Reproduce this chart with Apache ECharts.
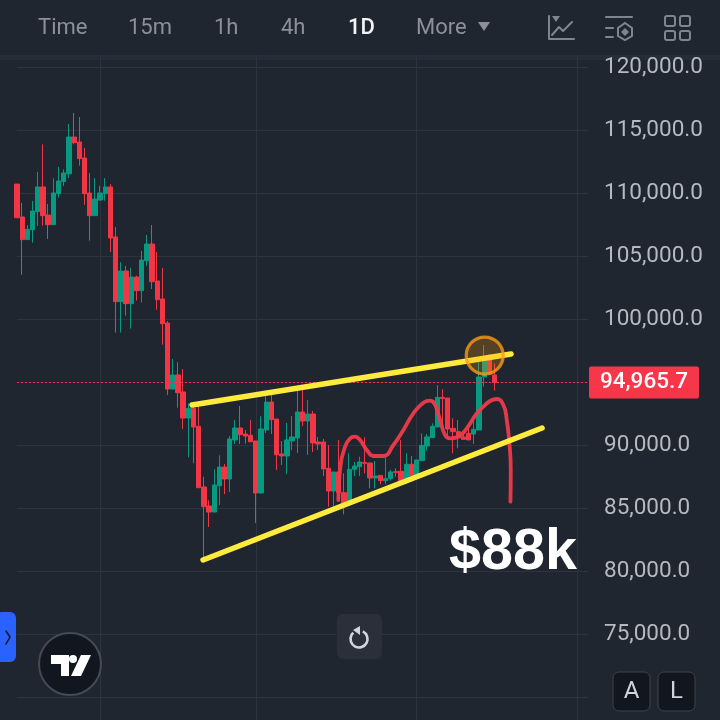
<!DOCTYPE html>
<html><head><meta charset="utf-8">
<style>html,body{margin:0;padding:0;background:#1f2630}#c{width:720px;height:720px}</style>
<script src="https://cdn.jsdelivr.net/npm/echarts@6/dist/echarts.min.js"></script>
</head><body><div id="c"></div>
<script>
const categories = ["10-16","10-17","10-18","10-19","10-20","10-21","10-22","10-23","10-24","10-25","10-26","10-27","10-28","10-29","10-30","10-31",
"11-01","11-02","11-03","11-04","11-05","11-06","11-07","11-08","11-09","11-10","11-11","11-12","11-13","11-14","11-15","11-16","11-17","11-18","11-19","11-20","11-21","11-22","11-23","11-24","11-25","11-26","11-27","11-28","11-29","11-30",
"12-01","12-02","12-03","12-04","12-05","12-06","12-07","12-08","12-09","12-10","12-11","12-12","12-13","12-14","12-15","12-16","12-17","12-18","12-19","12-20","12-21","12-22","12-23","12-24","12-25","12-26","12-27","12-28","12-29","12-30","12-31",
"01-01","01-02","01-03","01-04","01-05","01-06","01-07","01-08","01-09","01-10","01-11","01-12","01-13","01-14","01-15","01-16","01-17","01-18","01-19","01-20","01-21","01-22","01-23","01-24","01-25","01-26","01-27","01-28","01-29","01-30","01-31",
"02-01","02-02","02-03"];
const monthStarts = ["11-01","12-01","01-01","02-01"];
const opens = [110710,108100,106300,107090,108520,110480,108250,107490,109950,110900,111530,114440,114050,112780,110000,108200,109440,109950,110480,106510,
101380,103810,101220,103330,102250,104630,105950,103020,101590,99680,94440,95560,94210,92140,92910,91480,86670,85160,84680,86770,
88250,87300,90400,91350,90870,90770,90320,86190,91190,93410,92060,89290,89130,90320,90560,92620,91900,92460,90240,90240,
88150,86350,87860,86220,85370,88070,88280,88620,88570,87380,87590,87170,87330,87880,87910,87170,88470,87540,88760,89920,
90580,91430,93780,93730,91320,91060,90640,90930,90870,91190,95400,96880,95560];
const closes = [108040,106300,107120,108570,110480,108200,107490,110000,110950,111590,114440,114000,112730,109950,108200,109520,110000,110480,106430,101380,
103810,101220,103330,102250,104680,105950,102960,101530,99630,94440,95560,94150,92140,92910,91430,86610,85110,84680,86830,88250,
87300,90480,91350,90820,90710,90260,86190,91270,93410,92010,89230,89130,90400,90640,92620,91900,92460,90160,90080,88100,
86350,87860,86220,85370,88070,88330,88650,88550,87380,87540,87170,87330,87860,87830,87170,88470,87540,88810,89970,90640,
91480,93780,93700,91270,91060,90580,90450,90400,91240,95400,96880,95640,94950];
const lows = [108040,103520,106300,106060,107380,107410,106350,107490,109630,110560,111190,113860,112170,109070,106220,108200,109390,109390,105320,98920,
98920,100270,99230,101460,101300,104230,102380,100740,97960,93970,94440,92960,91270,89020,88550,86610,80740,83490,84680,85240,
86110,86270,90080,90080,90110,90260,83810,86190,90950,90870,88020,88410,87700,89600,89370,91510,89210,89440,89600,87540,
85110,85160,85500,84500,85160,87540,87540,87750,86560,86560,86900,86900,87170,87490,86830,86900,87090,87540,88760,89550,
90580,91430,91460,90530,89340,89740,90400,90400,90080,91190,94630,95560,94310];
const highs = [110710,109210,107460,109370,111670,113860,109130,111160,112060,111880,115480,116350,116030,113570,111590,111190,110560,111190,110710,107300,
104500,104210,104050,103440,105400,106670,107460,105320,104050,99840,96830,96560,96030,93310,93250,93230,87490,85610,88070,89180,
88490,90710,91980,93100,91190,91980,90320,92280,94230,94020,92060,90320,91750,92300,94600,94370,93570,92700,90640,90480,
90000,87860,90400,87750,89340,88650,89070,90610,88570,88730,87620,89210,88020,88150,90400,89340,89130,88810,90930,90870,
91720,94760,94420,93730,92120,91980,90930,91670,92380,96880,97940,97220,96480];
const lastPrice = 94965.7;
const resistanceLine = [[33.72,93175],[95.18,97222]];
const supportLine = [[35.84,80873],[101.16,91349]];
const curveIndex = [61.9,62.23,63.2,64.17,65.12,66.09,67.38,68.66,70.58,72.52,74.44,76.36,78.29,79.58,80.54,81.5,82.47,83.43,85.03,86.64,88.57,89.85,91.13,92.42,93.7,94.35,94.86,95.12,95.06];
const curvePrice = [85635,88016,89868,90529,90661,90397,89603,89127,89127,90000,91190,92513,93360,93519,93175,91984,90794,90529,90661,91323,92513,93042,93492,93651,93175,91984,90132,88016,85503];
const circlePoint = [90.1,97100];
const headerTabs = [["Time",38,false],["15m",128,false],["1h",214,false],["4h",281,false],["1D",348,true],["More",416,false]];

const RED="#f23645", GREEN="#089981", BG="#1f2630", GRID="#2d343f", MUTED="#8b9099", ICON="#7f8590";
const FONT="Roboto, sans-serif";

const chart = echarts.init(document.getElementById('c'),null,{renderer:'canvas'});
const t=(x,y,text,fontSize,fill,extra)=>({type:'text',x,y,z:100,silent:true,style:Object.assign({text,fontSize,fill,fontFamily:FONT,verticalAlign:'middle'},extra||{})});
const ln=(shape,stroke,w)=>({type:'line',z:100,silent:true,shape,style:{stroke,lineWidth:w||2,lineCap:'round'}});
const rr=(x,y,width,height,r,fill,stroke,w,z)=>({type:'rect',z:z===undefined?100:z,silent:true,shape:{x,y,width,height,r},style:{fill,stroke:stroke||null,lineWidth:w||0}});
const poly=(points,fill,z)=>({type:'polygon',z:z||100,silent:true,shape:{points},style:{fill}});
const pl=(points,stroke,w)=>({type:'polyline',z:100,silent:true,shape:{points},style:{stroke,lineWidth:w||2,fill:null,lineJoin:'round',lineCap:'round'}});

const graphics = [
  rr(0,0,720,55,0,BG,null,0,90),
  rr(0,55,720,5,0,"#262d38",null,0,-1),
  ...headerTabs.map(h=>t(h[1],28.5,h[0],22,h[2]?"#f2f3f5":MUTED,{fontWeight:h[2]?500:400})),
  poly([[478,22],[490,22],[484,31]],MUTED),
  pl([[549,16],[549,39],[574,39]],ICON,2),
  poly([[552,16],[560,16],[556,22]],ICON),
  pl([[552,35],[559,27],[563,31],[572,22]],ICON,2),
  ln({x1:606,y1:17,x2:632,y2:17},ICON,2),
  ln({x1:606,y1:28,x2:613,y2:28},ICON,2),
  ln({x1:606,y1:37,x2:613,y2:37},ICON,2),
  {type:'polygon',z:100,silent:true,shape:{points:[[625,23],[632,28],[632,36],[625,40],[618,36],[618,28]]},style:{fill:null,stroke:ICON,lineWidth:2}},
  poly([[625,28],[629,32],[625,36],[621,32]],ICON),
  rr(665,16,10,10,2,null,ICON,2), rr(680,16,10,10,2,null,ICON,2),
  rr(665,31,10,9,2,null,ICON,2), rr(680,31,10,9,2,null,ICON,2),
  rr(-4,612,20,50,6,"#2962ff"),
  pl([[6,631],[10,637],[6,644]],"#131722",1.5),
  {type:'circle',z:100,silent:true,shape:{cx:70,cy:664,r:31},style:{fill:"#12161f",stroke:"#454a54",lineWidth:2}},
  poly([[51,655],[69,655],[69,676],[61,676],[61,664],[51,664]],"#fff"),
  {type:'circle',z:100,silent:true,shape:{cx:73,cy:659,r:4},style:{fill:"#fff"}},
  poly([[81,655],[91,655],[81,676],[71,676]],"#fff"),
  rr(337,614,45,45,6,"#2b2f39"),
  {type:'arc',z:100,silent:true,shape:{cx:359,cy:639,r:8.5,startAngle:-1.1,endAngle:-2.3,clockwise:true},style:{stroke:"#d1d4dc",lineWidth:2.6,fill:null}},
  poly([[360,626],[360,635],[353,630]],"#d1d4dc"),
  rr(613,672,37,39,6,"#12161f","#3d424c",1),
  rr(658,672,37,39,6,"#12161f","#3d424c",1),
  t(631.5,692,"A",24,"#d1d4dc",{align:'center'}),
  t(676.5,692,"L",24,"#d1d4dc",{align:'center'}),
  {type:'text',x:449,y:553,z:100,silent:true,style:{text:"$88k",fontSize:57.5,fontWeight:'bold',fill:"#ffffff",fontFamily:"Liberation Sans, Arial, sans-serif",verticalAlign:'middle'}}
];

chart.setOption({
  animation:false,
  backgroundColor:BG,
  grid:{left:17,width:571,top:54.4,height:705.6,containLabel:false,outerBoundsMode:'none'},
  xAxis:[
    {type:'category',data:categories,boundaryGap:false,axisLine:{show:false},axisLabel:{show:false},
     axisTick:{show:false,interval:(i,v)=>monthStarts.includes(v)},
     splitLine:{show:true,interval:(i,v)=>monthStarts.includes(v),lineStyle:{color:GRID,width:1}}},
    {type:'value',min:0,max:110,show:false,splitLine:{show:false}}
  ],
  yAxis:{type:'value',position:'right',min:65000,max:121000,interval:5000,
    axisLine:{show:false},axisTick:{show:false},
    splitLine:{show:true,lineStyle:{color:GRID,width:1}},
    axisLabel:{show:true,margin:16,color:"#b6b9bf",fontSize:22.5,fontFamily:FONT,padding:[0,0,5,0],showMaxLabel:false,
      formatter:v=>(v<75000||v>120000)?'':v.toLocaleString('en-US',{minimumFractionDigits:1,maximumFractionDigits:1})}},
  graphic:graphics,
  series:[
    {type:'candlestick',xAxisIndex:0,barWidth:4.8,z:2,clip:true,silent:true,
     data:opens.map((o,i)=>[o,closes[i],lows[i],highs[i]]),
     itemStyle:{color:GREEN,color0:RED,borderColor:GREEN,borderColor0:RED,borderWidth:1},
     markLine:{silent:true,symbol:'none',precision:1,
       lineStyle:{color:RED,type:[2,2],width:1,opacity:1},
       label:{show:true,position:'end',distance:1,formatter:()=>lastPrice.toLocaleString('en-US',{minimumFractionDigits:1}),
         color:"#fff",fontSize:22.5,fontWeight:500,fontFamily:FONT,backgroundColor:"#f7364a",padding:[5,11,4,11],borderRadius:2},
       data:[{yAxis:lastPrice}]}},
    {type:'line',xAxisIndex:1,data:curveIndex.map((x,i)=>[x,curvePrice[i]]),smooth:0.5,showSymbol:false,z:4,silent:true,
     lineStyle:{color:"#ef3a4b",width:3.8,cap:'round',opacity:.95}},
    {type:'line',xAxisIndex:1,data:resistanceLine,showSymbol:false,z:5,silent:true,lineStyle:{color:"#ffeb3b",width:5.4,cap:'round'}},
    {type:'line',xAxisIndex:1,data:supportLine,showSymbol:false,z:5,silent:true,lineStyle:{color:"#ffeb3b",width:5.4,cap:'round'}},
    {type:'scatter',xAxisIndex:1,data:[circlePoint],symbol:'circle',symbolSize:37,z:6,silent:true,
     itemStyle:{color:'rgba(255,152,0,0.3)',borderColor:"#fb9a14",borderWidth:3.2}}
  ]
});
</script></body></html>
